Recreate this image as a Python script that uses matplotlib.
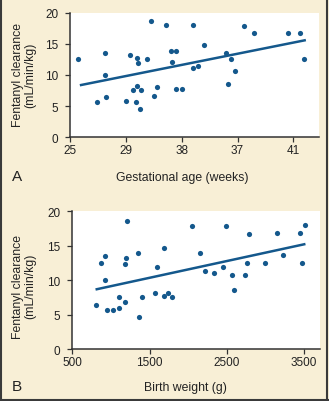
import matplotlib
matplotlib.use("Agg")
from matplotlib import pyplot as plt
from matplotlib.lines import Line2D

plt.rcParams['font.family'] = ['Liberation Sans', 'DejaVu Sans']

# panel A: gestational age vs fentanyl clearance
age = [25.6, 26.9, 27.5, 27.5, 27.6, 29.0, 29.3, 29.5, 29.7, 29.8, 29.8, 29.9,
       30.0, 30.1, 30.5, 30.8, 31.0, 31.2, 31.9, 32.2, 32.3, 32.6, 32.6, 33.0,
       33.8, 33.8, 34.2, 34.6, 36.2, 36.3, 36.5, 36.8, 37.5, 38.2, 40.6, 41.5, 41.8]
clear_a = [12.6, 5.7, 13.6, 10.0, 6.4, 5.9, 13.2, 7.6, 5.7, 12.8, 8.2, 11.9,
           4.6, 7.6, 12.6, 18.7, 6.7, 8.0, 18.0, 13.9, 12.1, 13.9, 7.7, 7.8,
           18.0, 11.1, 11.4, 14.8, 13.6, 8.6, 12.5, 10.7, 17.9, 16.7, 16.7, 16.7, 12.5]
fit_a_x = [25.7, 41.9]
fit_a_y = [8.35, 15.6]
age_ticks = [25, 29, 33, 37, 41]
age_labels = ['25', '29', '38', '37', '41']

# panel B: birth weight vs fentanyl clearance
weight = [800, 865, 920, 920, 955, 1025, 1105, 1110, 1180, 1185, 1200, 1210, 1350,
          1365, 1400, 1575, 1590, 1685, 1690, 1735, 1790, 2055, 2160, 2220, 2340,
          2455, 2485, 2565, 2600, 2740, 2760, 2790, 3000, 3145, 3225, 3455, 3470, 3515]
clear_b = [6.4, 12.5, 13.5, 10.0, 5.7, 5.7, 7.6, 5.9, 12.4, 6.8, 13.2, 18.6, 13.9,
           4.6, 7.6, 8.1, 11.9, 7.7, 14.7, 8.2, 7.6, 17.9, 13.9, 11.4, 11.1,
           11.9, 17.9, 10.7, 8.6, 10.7, 12.5, 16.7, 12.5, 16.8, 13.6, 16.8, 12.5, 18.0]
fit_b_x = [800, 3520]
fit_b_y = [8.65, 15.25]
weight_ticks = [500, 1500, 2500, 3500]

bg = '#f8efd6'
blue = '#14588c'
dark = '#333333'
txt = '#222222'

fig = plt.figure(figsize=(3.29, 4.02), dpi=100, facecolor=bg)


def style(ax):
    ax.set_facecolor('white')
    for s in ['top', 'right']:
        ax.spines[s].set_visible(False)
    for s in ['left', 'bottom']:
        ax.spines[s].set_color(dark)
        ax.spines[s].set_linewidth(1.1)
    ax.tick_params(direction='out', length=3.5, width=0.9, color=dark,
                   labelsize=8.5, labelcolor=txt)
    ax.tick_params(axis='y', pad=5)
    ax.tick_params(axis='x', pad=1.5)
    ax.set_ylim(0, 20)
    ax.set_yticks([0, 5, 10, 15, 20])
    ax.set_ylabel('Fentanyl clearance\n(mL/min/kg)', fontsize=8.8, color=txt,
                  linespacing=1.05)


axA = fig.add_axes([0.213, 0.656, 0.757, 0.310])
style(axA)
axA.scatter(age, clear_a, s=14, color=blue, zorder=3, linewidths=0)
axA.plot(fit_a_x, fit_a_y, color=blue, lw=1.8, solid_capstyle='butt')
axA.set_xlim(25, 42.85)
axA.set_xticks(age_ticks)
axA.set_xticklabels(age_labels)
axA.set_xlabel('Gestational age (weeks)', fontsize=8.8, color=txt, va='center')
axA.xaxis.set_label_coords(0.45, -0.318)
axA.yaxis.set_label_coords(-0.136, 0.507)

axB = fig.add_axes([0.220, 0.129, 0.753, 0.343])
style(axB)
axB.scatter(weight, clear_b, s=14, color=blue, zorder=3, linewidths=0)
axB.plot(fit_b_x, fit_b_y, color=blue, lw=1.8, solid_capstyle='butt')
axB.set_xlim(500, 3710)
axB.set_xticks(weight_ticks)
axB.set_xlabel('Birth weight (g)', fontsize=8.8, color=txt, va='center')
axB.xaxis.set_label_coords(0.456, -0.274)
axB.yaxis.set_label_coords(-0.146, 0.46)

fig.text(12 / 329, 1 - 177 / 402, 'A', fontsize=11, va='center', ha='left', color=txt)
fig.text(12 / 329, 1 - 387 / 402, 'B', fontsize=11, va='center', ha='left', color=txt)

# frame around the figure (left, right, bottom)
for xs, ys in [([0.002, 0.002], [0, 1]), ([0.995, 0.995], [0, 1]), ([0, 1], [0.003, 0.003])]:
    fig.add_artist(Line2D(xs, ys, transform=fig.transFigure, color='#3a3a3a', lw=1.5))

fig.savefig('out.png', dpi=100, facecolor=bg)
